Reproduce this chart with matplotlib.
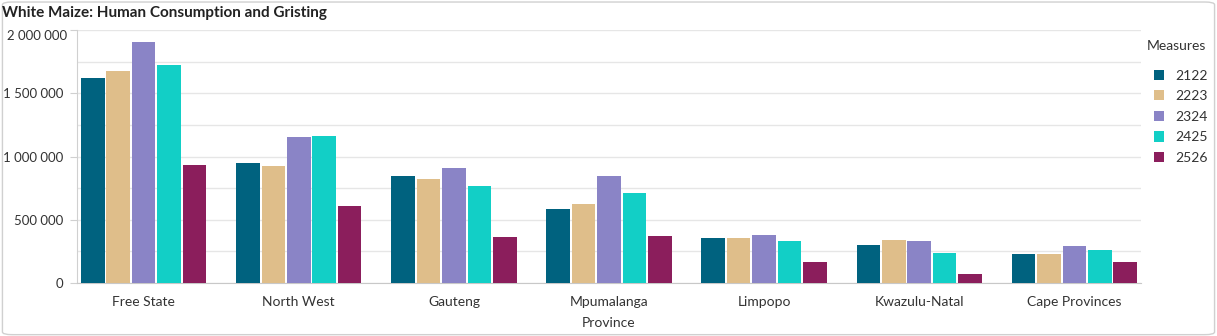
import matplotlib
matplotlib.use("Agg")
import matplotlib.pyplot as plt
import matplotlib.transforms as mtransforms
import numpy as np
from matplotlib.patches import FancyBboxPatch
from matplotlib.ticker import FuncFormatter, MultipleLocator

provinces = ["Free State", "North West", "Gauteng", "Mpumalanga",
             "Limpopo", "Kwazulu-Natal", "Cape Provinces"]
seasons = ["2122", "2223", "2324", "2425", "2526"]
values = {
    "2122": [1618000, 947000, 845000, 582000, 352000, 298000, 233000],
    "2223": [1676000, 921000, 826000, 628000, 356000, 338000, 227000],
    "2324": [1905000, 1152000, 906000, 845000, 382000, 335000, 289000],
    "2425": [1723000, 1163000, 766000, 713000, 331000, 239000, 263000],
    "2526": [934000, 605000, 363000, 368000, 167000, 70000, 169000],
}
colors = ["#00627f", "#dfbe8a", "#8a84c6", "#12cfc6", "#8b1e5c"]
Y_MAX = 2000000

plt.rcParams["font.family"] = ["Lato", "DejaVu Sans"]
FS = 9.5
TXT = "#333333"


def fmt(v):
    return f"{v:,.0f}".replace(",", " ")


fig = plt.figure(figsize=(12.17, 3.36), dpi=100)
fig.patches.append(FancyBboxPatch((0.002, 0.004), 0.996, 0.99,
                                  boxstyle="round,pad=0,rounding_size=0.008",
                                  transform=fig.transFigure, facecolor="white",
                                  edgecolor="#d0d0d0", lw=1.0, zorder=-10))
ax = fig.add_axes([77 / 1217, 53 / 336, (1141 - 77) / 1217, (283 - 30) / 336])

x = np.arange(len(provinces))
slot = 0.164
for i, (s, c) in enumerate(zip(seasons, colors)):
    ax.bar(x + (i - 2) * slot, values[s], width=slot - 0.012, color=c, label=s, zorder=3)

ax.set_xlim(-0.43, len(provinces) - 0.57)
ax.set_ylim(0, Y_MAX)
ax.yaxis.set_major_locator(MultipleLocator(500000))
ax.yaxis.set_minor_locator(MultipleLocator(250000))
# the top label is drawn separately, nudged down inside the card
ax.yaxis.set_major_formatter(FuncFormatter(lambda v, _: "" if v >= Y_MAX else fmt(v)))
ax.grid(axis="y", which="both", color="#e6e6e6", lw=1, zorder=0)
ax.set_xticks(x)
ax.set_xticklabels(provinces)
ax.tick_params(axis="x", length=0, pad=9, labelsize=FS + 0.5, colors=TXT)
ax.tick_params(axis="y", which="minor", length=0)
ax.tick_params(axis="y", which="major", length=5, color="#d0d0d0", pad=5,
               labelsize=FS, labelcolor=TXT)
for side in ("top", "right"):
    ax.spines[side].set_visible(False)
ax.spines["left"].set_color("#d0d0d0")
ax.spines["bottom"].set_color("#c8c8c8")
ax.set_xlabel("Province", fontsize=FS + 0.5, color=TXT, labelpad=7)

shift = mtransforms.ScaledTranslation(-10 / 100, -6 / 100, fig.dpi_scale_trans)
ax.text(0, Y_MAX, fmt(Y_MAX), transform=ax.get_yaxis_transform() + shift,
        ha="right", va="center", fontsize=FS, color=TXT)

fig.text(0.002, 0.962, "White Maize: Human Consumption and Gristing", fontsize=11,
         fontweight="bold", color="#222222", va="center", ha="left")

fig.text(1147 / 1217, 1 - 46 / 336, "Measures", fontsize=FS + 0.5, color=TXT,
         va="center", ha="left")
leg = ax.legend(loc="upper left", bbox_to_anchor=(1141 / 1217, 1 - 57 / 336),
                bbox_transform=fig.transFigure, frameon=False, fontsize=FS + 0.5,
                handlelength=0.75, handleheight=0.75,
                handletextpad=0.8, labelspacing=0.62)
for t in leg.get_texts():
    t.set_color(TXT)

fig.savefig("out.png", dpi=100)
